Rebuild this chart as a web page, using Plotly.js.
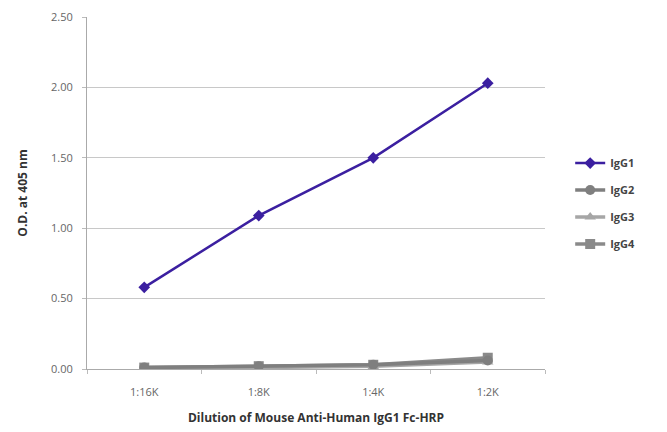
<!DOCTYPE html>
<html><head><meta charset="utf-8">
<script src="https://cdn.plot.ly/plotly-3.0.1.min.js"></script>
<style>html,body{margin:0;padding:0;background:#fff}#chart{width:667px;height:432px}</style>
</head><body><div id="chart"></div>
<script>
var categories = ["1:16K", "1:8K", "1:4K", "1:2K"];
var igg1 = [0.58, 1.09, 1.50, 2.03];
var igg2 = [0.01, 0.02, 0.03, 0.06];
var igg3 = [0.01, 0.01, 0.02, 0.05];
var igg4 = [0.01, 0.02, 0.03, 0.08];
var seriesNames = ["IgG1", "IgG2", "IgG3", "IgG4"];
var yTicks = [0, 0.5, 1, 1.5, 2, 2.5];
var yTickText = ["0.00", "0.50", "1.00", "1.50", "2.00", "2.50"];

var styles = [
  {color: "#3b1fa0", symbol: "diamond", size: 9, width: 2.5},
  {color: "#7f7f7f", symbol: "circle", size: 10, width: 3.5},
  {color: "#a6a6a6", symbol: "triangle-up", size: 10, width: 3.5},
  {color: "#8a8a8a", symbol: "square", size: 10, width: 3.5}
];
var data = [igg1, igg2, igg3, igg4];
var traces = [];
for (var i = data.length - 1; i >= 0; i--) {
  traces.push({
    x: categories, y: data[i], name: seriesNames[i], type: "scatter", mode: "lines+markers",
    legendgroup: "g" + i, legendrank: i + 1,
    line: {color: styles[i].color, width: styles[i].width},
    marker: {color: styles[i].color, symbol: styles[i].symbol, size: styles[i].size}
  });
}

var layout = {
  width: 667, height: 432,
  margin: {l: 87, r: 122, t: 17, b: 63},
  paper_bgcolor: "#fff", plot_bgcolor: "#fff",
  font: {family: "Open Sans, Liberation Sans, sans-serif", color: "#555"},
  showlegend: true,
  legend: {x: 1.055, xanchor: "left", y: 0.47, yanchor: "middle", tracegroupgap: 8,
           font: {size: 11, color: "#444", family: "Open Sans, sans-serif", weight: "bold"},
           bgcolor: "rgba(0,0,0,0)"},
  xaxis: {
    type: "category", range: [-0.5, 3.5], showgrid: false, showline: true, linecolor: "#aaa", linewidth: 1,
    ticks: "outside", tickson: "boundaries", ticklen: 4, tickcolor: "#bbb",
    ticklabelstandoff: 13,
    tickfont: {size: 11, color: "#666"},
    title: {text: "Dilution of Mouse Anti-Human IgG1 Fc-HRP", font: {size: 12, color: "#333", weight: "bold"}, standoff: 15},
    zeroline: false
  },
  yaxis: {
    range: [0, 2.5], tickvals: yTicks, ticktext: yTickText,
    showgrid: true, gridcolor: "#c8c8c8", gridwidth: 1,
    showline: true, linecolor: "#aaa", linewidth: 1,
    ticks: "outside", ticklen: 4, tickcolor: "#bbb",
    ticklabelstandoff: 7,
    tickfont: {size: 11, color: "#666"},
    title: {text: "O.D. at 405 nm", font: {size: 12, color: "#333", weight: "bold"}, standoff: 20},
    zeroline: false
  }
};
Plotly.newPlot("chart", traces, layout, {displayModeBar: false, staticPlot: true});
</script></body></html>
